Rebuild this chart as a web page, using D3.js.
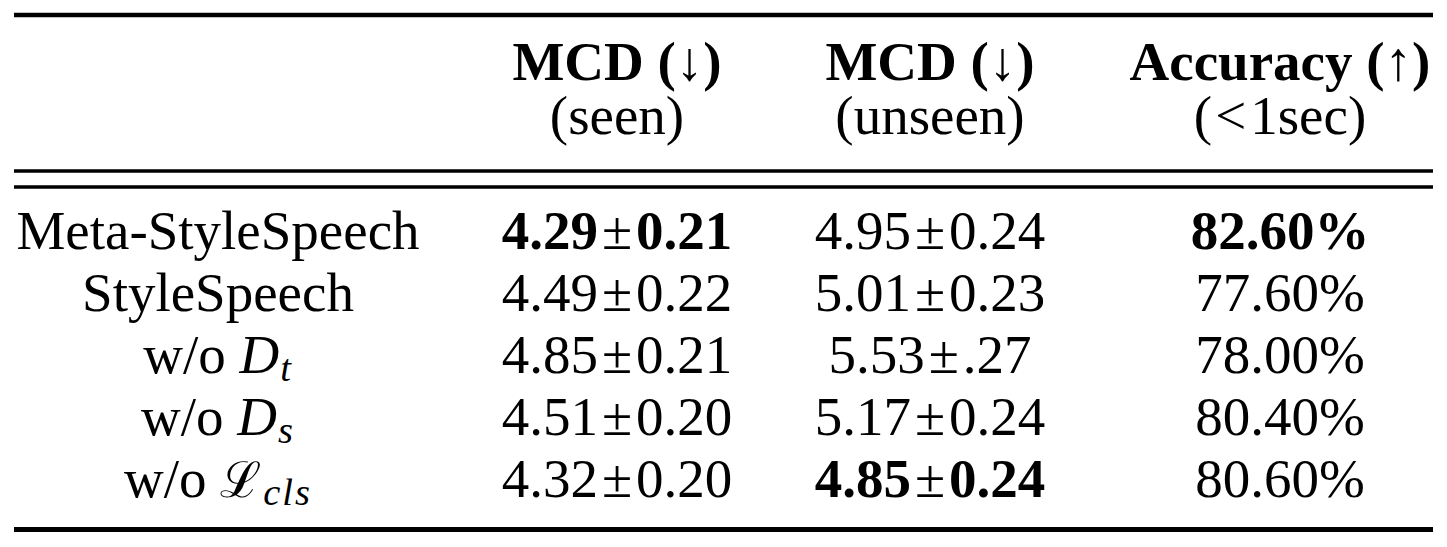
<!DOCTYPE html>
<html>
<head>
<meta charset="utf-8">
<script src="https://cdn.jsdelivr.net/npm/d3@7"></script>
<style>
  body { margin: 0; background: #fff; }
  text { font-family: "Liberation Serif", "Times New Roman", serif; fill: #000; }
</style>
</head>
<body>
<div id="table"></div>
<script>
// table content
var methodBase = ["Meta-StyleSpeech", "StyleSpeech", "w/o", "w/o", "w/o"];
var methodSym  = [null, null, "D", "D", "\u2112"];
var methodSub  = [null, null, "t", "s", "cls"];

var mcdSeen       = [4.29, 4.49, 4.85, 4.51, 4.32];
var mcdSeenStd    = ["0.21", "0.22", "0.21", "0.20", "0.20"];
var mcdUnseen     = [4.95, 5.01, 5.53, 5.17, 4.85];
var mcdUnseenStd  = ["0.24", "0.23", ".27", "0.24", "0.24"];
var accuracy      = [82.60, 77.60, 78.00, 80.40, 80.60];

var headTop    = ["", "MCD (\u2193)", "MCD (\u2193)", "Accuracy (\u2191)"];
var headBottom = ["", "(seen)", "(unseen)", "(<1sec)"];

var width = 1447, height = 547;
var fontSize = 55;

var svg = d3.select("#table").append("svg")
    .attr("width", width)
    .attr("height", height);

var cols = ["method", "seen", "unseen", "acc"];
var x = d3.scaleOrdinal().domain(cols).range([218, 617, 930, 1280]);
var y = d3.scalePoint().domain(d3.range(methodBase.length)).range([249, 497]);
var yHead = d3.scalePoint().domain([0, 1]).range([80, 134]);

// rules
var rules = [
    {y: 15, w: 4.7},
    {y: 171, w: 3.4},
    {y: 187, w: 3.6},
    {y: 529.5, w: 5}
];
svg.selectAll("line.rule").data(rules).enter()
    .append("line")
    .attr("class", "rule")
    .attr("x1", 14).attr("x2", 1433)
    .attr("y1", function (d) { return d.y; })
    .attr("y2", function (d) { return d.y; })
    .attr("stroke", "#000")
    .attr("stroke-width", function (d) { return d.w; });

// header, two lines in one text
cols.forEach(function (c, i) {
    if (!headTop[i]) return;
    var t = svg.append("text")
        .attr("x", x(c)).attr("y", yHead(0))
        .attr("text-anchor", "middle")
        .attr("font-size", fontSize);
    t.append("tspan").attr("font-weight", "bold").text(headTop[i]);
    var sub = t.append("tspan").attr("x", x(c)).attr("y", yHead(1));
    if (headBottom[i].indexOf("<") >= 0) {
        // math-style spacing round the relation sign
        sub.append("tspan").text("(");
        sub.append("tspan").attr("dx", 3).text("<");
        sub.append("tspan").attr("dx", 4).text(headBottom[i].slice(2));
    } else {
        sub.text(headBottom[i]);
    }
});

var bestSeen = d3.minIndex(mcdSeen);
var bestUnseen = d3.minIndex(mcdUnseen);
var bestAcc = d3.maxIndex(accuracy);

// method column
methodBase.forEach(function (m, i) {
    var t = svg.append("text")
        .attr("x", x("method")).attr("y", y(i))
        .attr("text-anchor", "middle")
        .attr("font-size", fontSize);
    t.append("tspan").text(methodSym[i] ? m + " " : m);
    if (methodSym[i]) {
        t.append("tspan")
            .attr("font-style", methodSym[i] === "D" ? "italic" : "normal")
            .attr("font-family", methodSym[i] === "D" ? null : "'DejaVu Serif', serif")
            .attr("font-size", methodSym[i] === "D" ? fontSize : fontSize * 0.9)
            .text(methodSym[i]);
        t.append("tspan")
            .attr("font-style", "italic")
            .attr("font-size", fontSize * 0.7)
            .attr("dy", 8)
            .attr("dx", methodSym[i] === "D" ? 1 : 2)
            .attr("letter-spacing", 2)
            .text(methodSub[i]);
    }
});

// value with +- sign
function pm(col, vals, stds, best) {
    vals.forEach(function (v, i) {
        var t = svg.append("text")
            .attr("x", x(col)).attr("y", y(i))
            .attr("text-anchor", "middle")
            .attr("font-size", fontSize)
            .attr("font-weight", i === best ? "bold" : "normal");
        t.append("tspan").text(d3.format(".2f")(v));
        t.append("tspan").attr("dx", 4).attr("font-weight", "normal").text("\u00b1");
        t.append("tspan").attr("dx", 4).text(stds[i]);
    });
}
pm("seen", mcdSeen, mcdSeenStd, bestSeen);
pm("unseen", mcdUnseen, mcdUnseenStd, bestUnseen);

accuracy.forEach(function (v, i) {
    svg.append("text")
        .attr("x", x("acc")).attr("y", y(i))
        .attr("text-anchor", "middle")
        .attr("font-size", fontSize)
        .attr("font-weight", i === bestAcc ? "bold" : "normal")
        .text(d3.format(".2f")(v) + "%");
});
</script>
</body>
</html>
